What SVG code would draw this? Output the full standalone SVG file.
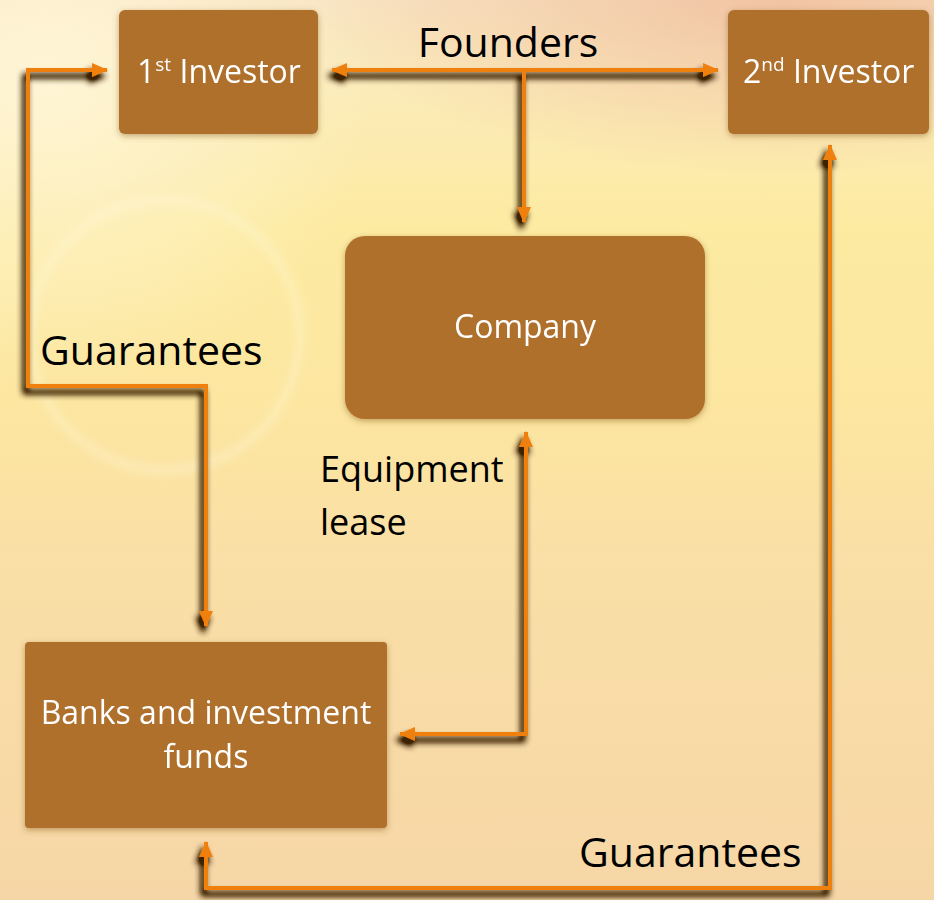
<svg xmlns="http://www.w3.org/2000/svg" width="934" height="900" viewBox="0 0 934 900">
  <defs>
    <linearGradient id="bg" x1="0" y1="0" x2="0" y2="1">
      <stop offset="0" stop-color="#F8E4C2"/>
      <stop offset="0.1" stop-color="#FBEBB8"/>
      <stop offset="0.25" stop-color="#FDEBA2"/>
      <stop offset="0.45" stop-color="#FCE6A0"/>
      <stop offset="0.62" stop-color="#FADFA6"/>
      <stop offset="1" stop-color="#F6D6A6"/>
    </linearGradient>
    <radialGradient id="pink" gradientUnits="userSpaceOnUse" cx="780" cy="0" r="460" gradientTransform="translate(0,0) scale(1,0.38)">
      <stop offset="0" stop-color="#F0BE9E" stop-opacity="0.85"/>
      <stop offset="1" stop-color="#F0BE9E" stop-opacity="0"/>
    </radialGradient>
    <radialGradient id="cream" cx="0.05" cy="0.08" r="0.35">
      <stop offset="0" stop-color="#FFF6D8" stop-opacity="0.9"/>
      <stop offset="1" stop-color="#FFF6D8" stop-opacity="0"/>
    </radialGradient>
    <filter id="soft" x="-20%" y="-20%" width="140%" height="140%">
      <feGaussianBlur stdDeviation="4"/>
    </filter>
    <filter id="boxsh" x="-10%" y="-10%" width="120%" height="125%">
      <feGaussianBlur in="SourceAlpha" stdDeviation="3"/>
      <feOffset dx="0" dy="2" result="b"/>
      <feFlood flood-color="#7A4A14" flood-opacity="0.45"/>
      <feComposite in2="b" operator="in"/>
      <feMerge><feMergeNode/><feMergeNode in="SourceGraphic"/></feMerge>
    </filter>
    <filter id="linesh" x="-10%" y="-10%" width="120%" height="120%">
      <feGaussianBlur in="SourceAlpha" stdDeviation="3"/>
      <feOffset dx="-3" dy="6" result="b"/>
      <feFlood flood-color="#3C2204" flood-opacity="1"/>
      <feComposite in2="b" operator="in"/>
      <feComponentTransfer><feFuncA type="linear" slope="1.6"/></feComponentTransfer>
      <feMerge><feMergeNode/><feMergeNode in="SourceGraphic"/></feMerge>
    </filter>
    <marker id="ah" markerUnits="userSpaceOnUse" markerWidth="16" markerHeight="14" refX="15" refY="7" orient="auto-start-reverse">
      <path d="M0,0 L16,7 L0,14 z" fill="#F08010"/>
    </marker>
    <style>
      .box { fill: #AE6F2C; }
      .bt { font-family: "Open Sans", "Liberation Sans", sans-serif; font-size: 32px; fill: #FFFFFF; }
      .lbl { font-family: "Open Sans", "Liberation Sans", sans-serif; fill: #000000; }
      .con { fill: none; stroke: #F08010; stroke-width: 4; marker-start: url(#ah); marker-end: url(#ah); }
      .con1 { fill: none; stroke: #F08010; stroke-width: 4; marker-end: url(#ah); }
    </style>
  </defs>

  <rect x="0" y="0" width="934" height="900" fill="url(#bg)"/>
  <rect x="0" y="0" width="934" height="900" fill="url(#pink)"/>
  <rect x="0" y="0" width="934" height="900" fill="url(#cream)"/>
  <circle cx="165" cy="335" r="135" fill="none" stroke="#FFF8E0" stroke-opacity="0.35" stroke-width="8" filter="url(#soft)"/>

  <g id="connectors" filter="url(#linesh)">
    <path class="con" d="M107,70 L28,70 L28,386 L206,386 L206,626"/>
    <path class="con" d="M332,70 L718,70"/>
    <path class="con1" d="M524,70 L524,222"/>
    <path class="con" d="M526,432 L526,734 L400,734"/>
    <path class="con" d="M830,145 L830,888 L206,888 L206,842"/>
  </g>

  <g id="investor1" filter="url(#boxsh)">
    <rect class="box" x="119" y="10" width="199" height="124" rx="6"/>
    <text class="bt" x="137" y="83">1<tspan font-size="19" dy="-12">st</tspan><tspan dy="12"> Investor</tspan></text>
  </g>

  <g id="investor2" filter="url(#boxsh)">
    <rect class="box" x="728" y="10" width="201" height="124" rx="6"/>
    <text class="bt" x="743" y="83">2<tspan font-size="19" dy="-12">nd</tspan><tspan dy="12"> Investor</tspan></text>
  </g>

  <g id="company" filter="url(#boxsh)">
    <rect class="box" x="345" y="236" width="360" height="183" rx="20"/>
    <text class="bt" x="525" y="338" text-anchor="middle">Company</text>
  </g>

  <g id="banks" filter="url(#boxsh)">
    <rect class="box" x="25" y="642" width="362" height="186" rx="4"/>
    <text class="bt" x="206" y="724" text-anchor="middle">Banks and investment</text>
    <text class="bt" x="206" y="768" text-anchor="middle">funds</text>
  </g>

  <g id="labels">
    <text class="lbl" x="508" y="57" font-size="41" text-anchor="middle">Founders</text>
    <text class="lbl" x="40" y="365" font-size="41">Guarantees</text>
    <text class="lbl" x="320" y="482" font-size="36">Equipment</text>
    <text class="lbl" x="320" y="535" font-size="36">lease</text>
    <text class="lbl" x="579" y="867" font-size="41">Guarantees</text>
  </g>
</svg>
